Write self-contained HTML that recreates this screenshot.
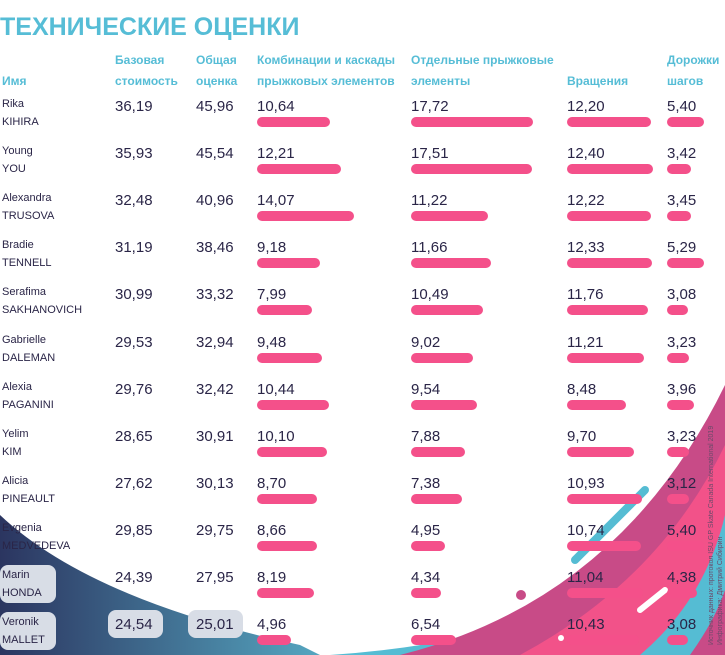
<!DOCTYPE html>
<html><head><meta charset="utf-8"><style>
body{margin:0;width:725px;height:655px;overflow:hidden;background:#fff;font-family:"Liberation Sans",sans-serif;position:relative}
.t{position:absolute;white-space:nowrap}
.h{color:#56bdd6;font-size:12px;font-weight:bold;line-height:21px}
.v{color:#2a2547;font-size:15px}
.n{color:#2a2547;font-size:11px;line-height:18px}
.bar{position:absolute;height:10px;border-radius:5px;background:#f4508a}
.box{position:absolute;background:#d8dde6;border-radius:8px}
</style></head><body>
<svg width="725" height="655" style="position:absolute;left:0;top:0">
<defs><linearGradient id="nv" x1="0" x2="1"><stop offset="0" stop-color="#2b3560"/><stop offset="1" stop-color="#55a6c0"/></linearGradient></defs>
<path d="M0 515 Q90 600 300 645 L320 655 L0 655Z" fill="url(#nv)"/>
<path d="M330 655 Q430 648 520 625 L540 655Z" fill="#55bcd3"/>
<path d="M400 655 Q620 600 725 385 L725 655Z" fill="#c84b87"/>
<path d="M520 655 Q660 580 725 445 L725 655Z" fill="#f25289"/>
<path d="M640 655 Q705 600 725 515 L725 655Z" fill="#55bcd3"/>
<path d="M690 655 Q715 620 725 590 L725 655Z" fill="#c84b87"/>
<line x1="575" y1="560" x2="645" y2="490" stroke="#55bcd3" stroke-width="8" stroke-linecap="round"/>
<line x1="640" y1="610" x2="665" y2="590" stroke="#fff" stroke-width="6" stroke-linecap="round"/>
<circle cx="521" cy="595" r="5" fill="#c84b87"/>
<circle cx="561" cy="638" r="3" fill="#fff"/>
<text x="0" y="0" transform="translate(713,645) rotate(-90)" font-size="7" fill="#6b4a6a" font-family="Liberation Sans">Источник данных: протокол ISU GP Skate Canada International 2019</text>
<text x="0" y="0" transform="translate(722,645) rotate(-90)" font-size="7" fill="#6b4a6a" font-family="Liberation Sans">Инфографика: Дмитрий Сибирин</text>
</svg>
<div class="t" style="left:0;top:13px;font-size:25px;font-weight:bold;color:#56bdd6">ТЕХНИЧЕСКИЕ ОЦЕНКИ</div>
<div class="t h" style="left:2px;top:71px">Имя</div>
<div class="t h" style="left:115px;top:50px">Базовая<br>стоимость</div>
<div class="t h" style="left:196px;top:50px">Общая<br>оценка</div>
<div class="t h" style="left:257px;top:50px">Комбинации и каскады<br>прыжковых элементов</div>
<div class="t h" style="left:411px;top:50px">Отдельные прыжковые<br>элементы</div>
<div class="t h" style="left:567px;top:71px">Вращения</div>
<div class="t h" style="left:667px;top:50px">Дорожки<br>шагов</div>
<div id="rows"></div>
<script>
const first=["Rika","Young","Alexandra","Bradie","Serafima","Gabrielle","Alexia","Yelim","Alicia","Evgenia","Marin","Veronik"];
const last=["KIHIRA","YOU","TRUSOVA","TENNELL","SAKHANOVICH","DALEMAN","PAGANINI","KIM","PINEAULT","MEDVEDEVA","HONDA","MALLET"];
const base=[36.19,35.93,32.48,31.19,30.99,29.53,29.76,28.65,27.62,29.85,24.39,24.54];
const total=[45.96,45.54,40.96,38.46,33.32,32.94,32.42,30.91,30.13,29.75,27.95,25.01];
const combo=[10.64,12.21,14.07,9.18,7.99,9.48,10.44,10.10,8.70,8.66,8.19,4.96];
const single=[17.72,17.51,11.22,11.66,10.49,9.02,9.54,7.88,7.38,4.95,4.34,6.54];
const spins=[12.20,12.40,12.22,12.33,11.76,11.21,8.48,9.70,10.93,10.74,11.04,10.43];
const steps=[5.40,3.42,3.45,5.29,3.08,3.23,3.96,3.23,3.12,5.40,4.38,3.08];
const R=document.getElementById('rows');
const rowY=i=>95+i*47.1;
const w=v=>v*6.9;
const fmt=v=>v.toFixed(2).replace('.',',');
function add(cls,x,y,html,name){const d=document.createElement('div');d.className='t '+cls;d.style.left=x+'px';d.style.top=y+'px';d.innerHTML=html;


R.appendChild(d);return d;}
first.forEach((f,i)=>{const y=rowY(i);
 if(i>=10){const b=document.createElement('div');b.className='box';b.style.left='0px';b.style.top=(y-1)+'px';b.style.width='56px';b.style.height='38px';
 
 
 R.appendChild(b);}
 if(i==11){[[108,55],[188,55]].forEach(([x,ww])=>{const b=document.createElement('div');b.className='box';b.style.left=x+'px';b.style.top=(y-3)+'px';b.style.width=ww+'px';b.style.height='28px';
 
 
 R.appendChild(b);});}
 add('n',2,y,f+'<br>'+last[i],'skater-name');
 add('v',115,y+3,fmt(base[i]),'base-value');
 add('v',196,y+3,fmt(total[i]),'total-value');
 [[257,combo],[411,single],[567,spins],[667,steps]].forEach(([x,arr])=>{
  add('v',x,y+3,fmt(arr[i]),'score-value');
  const b=document.createElement('div');b.className='bar';b.style.left=x+'px';b.style.top=(y+22)+'px';b.style.width=w(arr[i])+'px';
  
  
  R.appendChild(b);
 });
});
</script>
</body></html>
